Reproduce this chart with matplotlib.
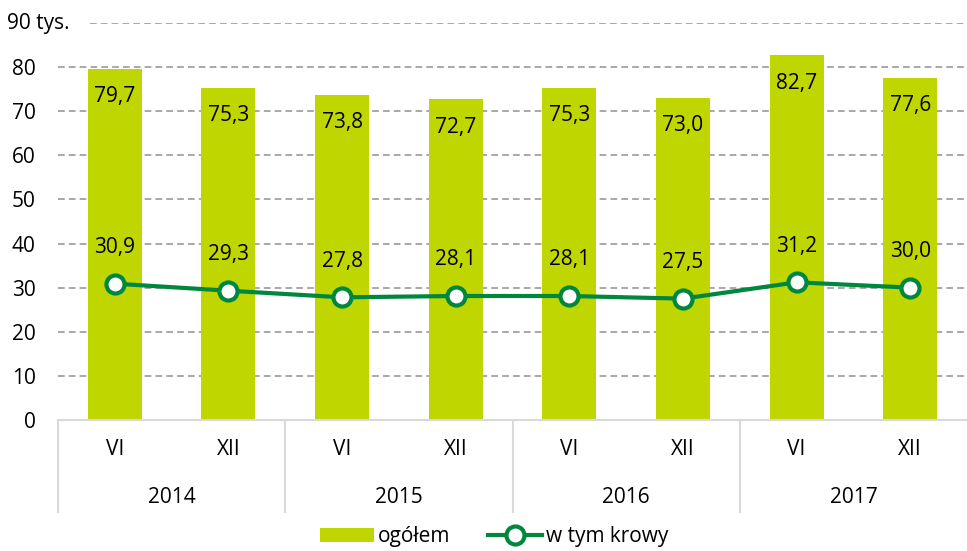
import matplotlib
matplotlib.use("Agg")
from matplotlib import pyplot as plt

plt.rcParams["font.family"] = ["Open Sans", "DejaVu Sans"]

years = ["2014", "2015", "2016", "2017"]
months = ["VI", "XII", "VI", "XII", "VI", "XII", "VI", "XII"]
ogolem = [79.7, 75.3, 73.8, 72.7, 75.3, 73.0, 82.7, 77.6]
krowy = [30.9, 29.3, 27.8, 28.1, 28.1, 27.5, 31.2, 30.0]

bar_color = "#bfd600"
line_color = "#00873e"
grid_color = "#999999"


def fmt(v):
    return f"{v:.1f}".replace(".", ",")


fig = plt.figure(figsize=(9.67, 5.51), dpi=100)
ax = fig.add_axes([0.06, 0.238, 0.94, 0.72])

x = list(range(len(months)))
ax.set_xlim(-0.5, len(months) - 0.5)
ax.set_ylim(0, 90)

# dashed gridlines (90 starts after the "tys." label)
for v in range(10, 90, 10):
    ax.axhline(v, color=grid_color, lw=1.2, ls=(0, (4, 2.5)), zorder=0)
ax.hlines(90, -0.22, len(months) - 0.5, color=grid_color, lw=1.2,
          ls=(0, (4, 2.5)), zorder=0)

bars = ax.bar(x, ogolem, width=0.475, color=bar_color, zorder=2)
line, = ax.plot(x, krowy, color=line_color, lw=3, marker="o", ms=13,
                mfc="white", mec=line_color, mew=3, zorder=3)

for i, v in enumerate(ogolem):
    ax.annotate(fmt(v), (i, v), xytext=(0, -20), textcoords="offset points",
                ha="center", va="center", fontsize=15, zorder=4)
for i, v in enumerate(krowy):
    ax.annotate(fmt(v), (i, v), xytext=(0, 26), textcoords="offset points",
                ha="center", va="center", fontsize=15, zorder=4)

for s in ["top", "right", "left"]:
    ax.spines[s].set_visible(False)
ax.spines["bottom"].set_color("#d9d9d9")
ax.spines["bottom"].set_linewidth(1.5)

ax.set_yticks(range(0, 90, 10))
ax.set_yticklabels([str(v) for v in range(0, 90, 10)])
ax.tick_params(axis="y", length=0, labelsize=15, pad=16)
ax.text(-0.95, 90, "90 tys.", ha="left", va="center", fontsize=15)

ax.set_xticks(x)
ax.set_xticklabels(months)
ax.tick_params(axis="x", length=0, labelsize=15, pad=14)

# year labels and separators under the axis
for j, yr in enumerate(years):
    ax.text(2 * j + 0.5, -0.195, yr, transform=ax.get_xaxis_transform(),
            ha="center", va="center", fontsize=15)
for j in range(len(years)):
    ax.plot([2 * j - 0.5, 2 * j - 0.5], [0, -0.233],
            transform=ax.get_xaxis_transform(), color="#d9d9d9", lw=1.5,
            clip_on=False)

ax.legend([bars, line], ["ogółem", "w tym krowy"], loc="center",
          bbox_to_anchor=(0.48, -0.295), ncol=2, frameon=False,
          fontsize=15, handlelength=2.6, columnspacing=1.8, handletextpad=0.2,
          borderpad=0.1)

fig.savefig("out.png", dpi=100)
